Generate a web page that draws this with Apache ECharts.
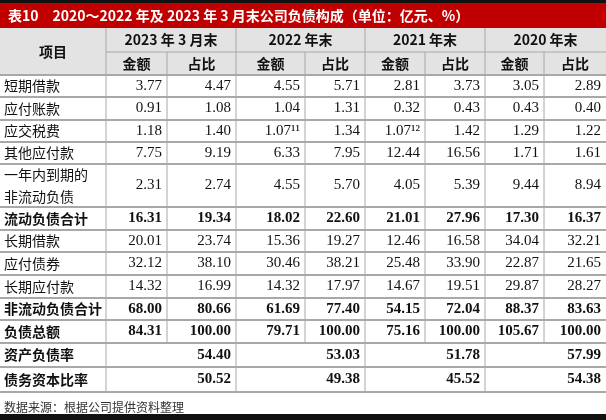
<!DOCTYPE html><html><head><meta charset="utf-8">
<script src="https://cdn.jsdelivr.net/npm/echarts@6/dist/echarts.min.js"></script>
<style>html,body{margin:0;padding:0;background:#fff}#c{width:606px;height:420px}</style></head><body><div id="c"></div><script>
const title = '表10　2020～2022 年及 2023 年 3 月末公司负债构成（单位：亿元、%）';
const periods = ['2023 年 3 月末','2022 年末','2021 年末','2020 年末'];
const subHeads = ['金额','占比'];
const items = ['短期借款','应付账款','应交税费','其他应付款','一年内到期的\n非流动负债','流动负债合计','长期借款','应付债券','长期应付款','非流动负债合计','负债总额'];
const values = [
 ['3.77','4.47','4.55','5.71','2.81','3.73','3.05','2.89'],
 ['0.91','1.08','1.04','1.31','0.32','0.43','0.43','0.40'],
 ['1.18','1.40','1.07¹¹','1.34','1.07¹²','1.42','1.29','1.22'],
 ['7.75','9.19','6.33','7.95','12.44','16.56','1.71','1.61'],
 ['2.31','2.74','4.55','5.70','4.05','5.39','9.44','8.94'],
 ['16.31','19.34','18.02','22.60','21.01','27.96','17.30','16.37'],
 ['20.01','23.74','15.36','19.27','12.46','16.58','34.04','32.21'],
 ['32.12','38.10','30.46','38.21','25.48','33.90','22.87','21.65'],
 ['14.32','16.99','14.32','17.97','14.67','19.51','29.87','28.27'],
 ['68.00','80.66','61.69','77.40','54.15','72.04','88.37','83.63'],
 ['84.31','100.00','79.71','100.00','75.16','100.00','105.67','100.00']];
const boldRows = ['流动负债合计','非流动负债合计','负债总额'];
const ratioItems = ['资产负债率','债务资本比率'];
const ratioValues = [['54.40','53.03','51.78','57.99'],['50.52','49.38','45.52','54.38']];
const source = '数据来源：根据公司提供资料整理';

const colX=[0,106,167,236,305,365,425,485,544,606];
const rowY=[75,97,120,142,164,207,230,252,275,298,320,343,367,392];
const g=[];
const cjk='"Noto Sans CJK SC",sans-serif', num='"Liberation Serif","DejaVu Serif",serif';
const line='#a8a8a8';
g.push({type:'rect',shape:{x:0,y:0,width:606,height:3},style:{fill:'#111'}});
g.push({type:'rect',shape:{x:0,y:3,width:606,height:25},style:{fill:'#c00000'}});
g.push({type:'text',x:8,y:15.5,style:{text:title,fill:'#fff',font:'bold 14px '+cjk,verticalAlign:'middle'}});
g.push({type:'rect',shape:{x:0,y:28,width:606,height:47},style:{fill:'#e3e3e3'}});
g.push({type:'text',x:53,y:51.5,style:{text:'项目',font:'bold 14px '+cjk,fill:'#111',align:'center',verticalAlign:'middle'}});
periods.forEach((p,i)=>{const x0=colX[1+2*i],x1=colX[3+2*i];
 g.push({type:'text',x:(x0+x1)/2,y:40,style:{text:p,font:'bold 14px '+cjk,fill:'#111',align:'center',verticalAlign:'middle'}});
 subHeads.forEach((s,j)=>g.push({type:'text',x:(colX[1+2*i+j]+colX[2+2*i+j])/2,y:63.5,style:{text:s,font:'bold 14px '+cjk,fill:'#111',align:'center',verticalAlign:'middle'}}));
});
function hl(y,x0,x1,w){g.push({type:'line',shape:{x1:x0,y1:y,x2:x1,y2:y},style:{stroke:line,lineWidth:w||1}});}
function vl(x,y0,y1){g.push({type:'line',shape:{x1:x,y1:y0,x2:x,y2:y1},style:{stroke:line,lineWidth:1}});}
hl(52,106,606);
items.forEach((it,r)=>{const y0=rowY[r],y1=rowY[r+1],cy=(y0+y1)/2,b=boldRows.includes(it);
 g.push({type:'text',x:4,y:cy,style:{text:it,font:(b?'bold ':'')+'14px '+cjk,fill:'#111',verticalAlign:'middle',lineHeight:22}});
 values[r].forEach((v,c)=>g.push({type:'text',x:colX[c+2]-5,y:cy,style:{text:v,font:(b?'bold ':'')+'15px '+num,fill:'#111',align:'right',verticalAlign:'middle'}}));
 hl(y0,0,606,2);
});
ratioItems.forEach((it,k)=>{const r=items.length+k,y0=rowY[r],y1=rowY[r+1],cy=(y0+y1)/2;
 g.push({type:'text',x:4,y:cy,style:{text:it,font:'bold 14px '+cjk,fill:'#111',verticalAlign:'middle'}});
 ratioValues[k].forEach((v,c)=>g.push({type:'text',x:colX[3+2*c]-5,y:cy,style:{text:v,font:'bold 15px '+num,fill:'#111',align:'right',verticalAlign:'middle'}}));
 hl(y0,0,606,2);
});
hl(392,0,606,2);
for(let c=1;c<9;c++){vl(colX[c],c%2===1?28:52,c%2===1?392:rowY[items.length]);}
g.push({type:'text',x:4,y:407,style:{text:source,font:'12px '+cjk,fill:'#333',verticalAlign:'middle'}});
g.push({type:'rect',shape:{x:0,y:414,width:606,height:6},style:{fill:'#111'}});
const ch=echarts.init(document.getElementById('c'));
ch.setOption({animation:false,graphic:{elements:g}});
</script></body></html>
